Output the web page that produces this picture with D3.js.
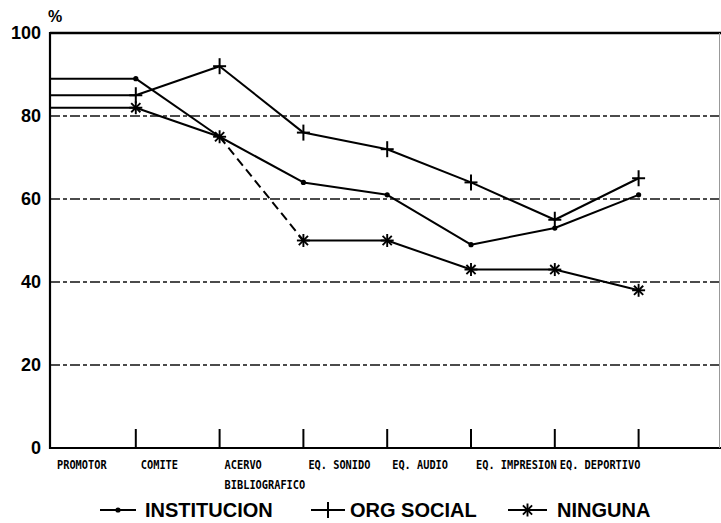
<!DOCTYPE html>
<html><head><meta charset="utf-8">
<script src="https://cdn.jsdelivr.net/npm/d3@7"></script>
<style>
html,body{margin:0;padding:0;background:#fff;}
svg{display:block;}
</style></head>
<body>
<svg id="chart" width="721" height="523"></svg>
<script>
// ---- data ----
const categories = ["PROMOTOR", "COMITE", "ACERVO|BIBLIOGRAFICO", "EQ. SONIDO", "EQ. AUDIO", "EQ. IMPRESION", "EQ. DEPORTIVO"];
const institucion = [89, 75, 64, 61, 49, 53, 61];
const orgSocial   = [85, 92, 76, 72, 64, 55, 65];
const ninguna     = [82, 75, 50, 50, 43, 43, 38];
const seriesNames = ["INSTITUCION", "ORG SOCIAL", "NINGUNA"];
const yTicks = [0, 20, 40, 60, 80, 100];
const gridValues = [20, 40, 60, 80];

(function() {
// ---- layout ----
const svg = d3.select("#chart");
const axisX = 50, rightX = 721, plotTop = 33, plotBottom = 448;

const x = d3.scaleBand().domain(categories).range([52, 638.6]).padding(0);
const px = c => x(c) + x.bandwidth();          // point sits at the right end of its band
const y = d3.scaleLinear().domain([0, 100]).range([plotBottom, plotTop]);

// grid lines
svg.append("g").selectAll("line").data(gridValues).join("line")
  .attr("x1", axisX).attr("x2", rightX)
  .attr("y1", d => y(d)).attr("y2", d => y(d))
  .attr("stroke", "#111").attr("stroke-width", 1.4)
  .attr("stroke-dasharray", "10,3,4,3");

// frame
svg.append("line").attr("x1", axisX).attr("x2", rightX).attr("y1", y(100)).attr("y2", y(100))
  .attr("stroke", "#000").attr("stroke-width", 2.5);
svg.append("line").attr("x1", axisX).attr("x2", rightX).attr("y1", y(0)).attr("y2", y(0))
  .attr("stroke", "#000").attr("stroke-width", 2.2);
svg.append("line").attr("x1", axisX).attr("x2", axisX).attr("y1", y(100) - 1).attr("y2", y(0) + 1)
  .attr("stroke", "#000").attr("stroke-width", 2.2);
svg.append("line").attr("x1", 719.5).attr("x2", 719.5).attr("y1", y(100)).attr("y2", y(0))
  .attr("stroke", "#999").attr("stroke-width", 1);

// y axis labels
svg.append("g").selectAll("text").data(yTicks).join("text")
  .attr("x", 41).attr("y", d => y(d)).attr("dy", "0.36em")
  .attr("text-anchor", "end")
  .attr("font-family", "Liberation Sans, Arial, sans-serif")
  .attr("font-weight", "bold").attr("font-size", 18)
  .text(d => d);
svg.append("text").attr("x", 48).attr("y", 22)
  .attr("font-family", "Liberation Sans, Arial, sans-serif")
  .attr("font-weight", "bold").attr("font-size", 16).text("%");

// x ticks
svg.append("g").selectAll("line").data(categories).join("line")
  .attr("x1", d => px(d)).attr("x2", d => px(d))
  .attr("y1", plotBottom - 19).attr("y2", plotBottom)
  .attr("stroke", "#000").attr("stroke-width", 2);

// x labels (tall condensed look)
const xl = svg.append("g").selectAll("text").data(categories).join("text")
  .attr("x", d => x(d) + 5).attr("y", 469)
  .attr("font-family", "DejaVu Sans Mono, monospace")
  .attr("font-weight", "bold").attr("font-size", 11.5);
xl.each(function(d) {
  const parts = d.split("|");
  const t = d3.select(this);
  parts.forEach((p, i) => {
    t.append("tspan").attr("x", x(d) + 5).attr("dy", i === 0 ? 0 : 19.5)
      .attr("textLength", p.length * 6.2).attr("lengthAdjust", "spacingAndGlyphs")
      .text(p);
  });
});

// ---- series ----
const allSeries = [institucion, orgSocial, ninguna];
const lineG = svg.append("g").attr("fill", "none").attr("stroke", "#000").attr("stroke-width", 2);

allSeries.forEach((vals, si) => {
  const pts = vals.map((v, i) => [px(categories[i]), y(v)]);
  lineG.append("line").attr("x1", axisX).attr("x2", pts[0][0])
    .attr("y1", pts[0][1]).attr("y2", pts[0][1]);
  for (let i = 0; i < pts.length - 1; i++) {
    const seg = lineG.append("line")
      .attr("x1", pts[i][0]).attr("y1", pts[i][1])
      .attr("x2", pts[i + 1][0]).attr("y2", pts[i + 1][1]);
    if (si === 2 && i === 1) seg.attr("stroke-dasharray", "9,5");
  }
});

function drawMarker(g, type, cx, cy) {
  if (type === 0) {
    g.append("circle").attr("cx", cx).attr("cy", cy).attr("r", 2.6).attr("fill", "#000");
  } else if (type === 1) {
    g.append("line").attr("x1", cx - 6.5).attr("x2", cx + 6.5).attr("y1", cy).attr("y2", cy)
      .attr("stroke", "#000").attr("stroke-width", 2);
    g.append("line").attr("x1", cx).attr("x2", cx).attr("y1", cy - 8).attr("y2", cy + 8)
      .attr("stroke", "#000").attr("stroke-width", 2);
  } else {
    [0, 45, 90, 135].forEach(a => {
      const r = 6.5, rad = a * Math.PI / 180;
      g.append("line")
        .attr("x1", cx - r * Math.cos(rad)).attr("y1", cy - r * Math.sin(rad))
        .attr("x2", cx + r * Math.cos(rad)).attr("y2", cy + r * Math.sin(rad))
        .attr("stroke", "#000").attr("stroke-width", 1.9);
    });
  }
}

const markG = svg.append("g");
allSeries.forEach((vals, si) => {
  vals.forEach((v, i) => drawMarker(markG, si, px(categories[i]), y(v)));
});

// ---- legend ----
const legendItems = [
  { x1: 100, x2: 136, tx: 145 },
  { x1: 311, x2: 345, tx: 350 },
  { x1: 508, x2: 547, tx: 557 }
];
const legG = svg.append("g");
seriesNames.forEach((name, i) => {
  const it = legendItems[i];
  const ly = 510;
  legG.append("line").attr("x1", it.x1).attr("x2", it.x2).attr("y1", ly).attr("y2", ly)
    .attr("stroke", "#000").attr("stroke-width", 2);
  drawMarker(legG, i, (it.x1 + it.x2) / 2, ly);
  legG.append("text").attr("x", it.tx).attr("y", ly).attr("dy", "0.36em")
    .attr("font-family", "Liberation Sans, Arial, sans-serif")
    .attr("font-weight", "bold").attr("font-size", 20)
    .text(name);
});
})();
</script>
</body></html>
